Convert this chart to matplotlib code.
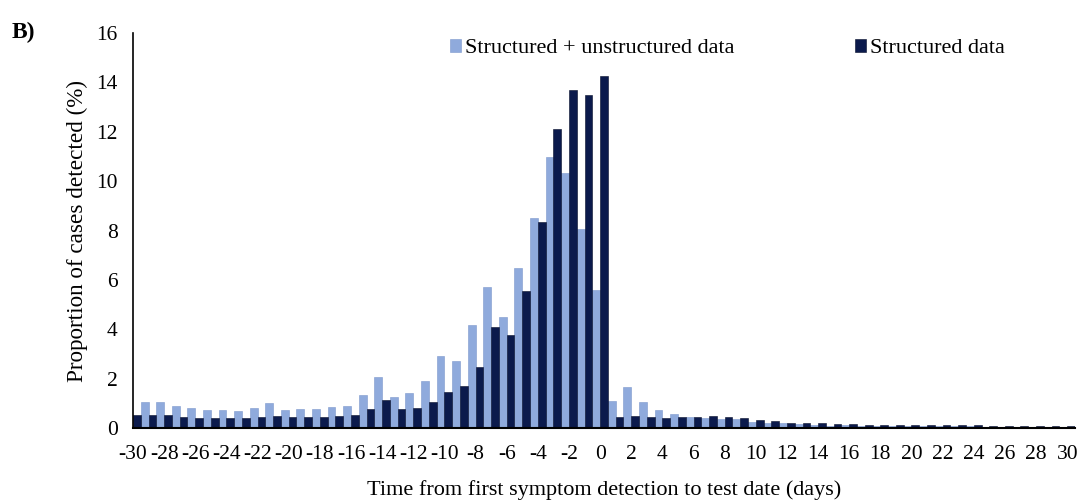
import matplotlib.pyplot as plt
import numpy as np

plt.rcParams['font.family'] = ['Liberation Serif', 'DejaVu Serif']
plt.rcParams['axes.unicode_minus'] = False

# time from first symptom detection to test date (days)
days_struct = list(range(-30, 31))
days_both = list(range(-29, 31))

# structured data (%)
structured = [0.53, 0.53, 0.53, 0.43, 0.39, 0.39, 0.39, 0.39, 0.46, 0.49,
              0.43, 0.46, 0.46, 0.50, 0.53, 0.77, 1.13, 0.76, 0.82, 1.04,
              1.44, 1.70, 2.48, 4.08, 3.78, 5.56, 8.33, 12.1, 13.68, 13.5,
              14.25,
              0.46, 0.50, 0.46, 0.39, 0.43, 0.43, 0.47, 0.43, 0.39, 0.34,
              0.27, 0.22, 0.22, 0.22, 0.15, 0.15, 0.13, 0.13, 0.12, 0.12,
              0.12, 0.12, 0.12, 0.12, 0.10, 0.10, 0.10, 0.10, 0.10, 0.08]

# structured + unstructured data (%)
both = [1.05, 1.05, 0.90, 0.80, 0.73, 0.73, 0.69, 0.80, 1.03,
        0.73, 0.76, 0.76, 0.84, 0.90, 1.33, 2.06, 1.24, 1.43, 1.90,
        2.91, 2.73, 4.17, 5.72, 4.48, 6.50, 8.50, 10.98, 10.34, 8.08,
        5.59,
        1.11, 1.65, 1.04, 0.73, 0.55, 0.43, 0.40, 0.35, 0.35, 0.26,
        0.22, 0.19, 0.15, 0.12, 0.08, 0.12, 0.10, 0.10, 0.08, 0.08,
        0.08, 0.08, 0.07, 0.07, 0.03, 0.03, 0.03, 0.02, 0.02, 0.02]

light = '#8FAADC'
dark = '#0B1A4C'

fig = plt.figure(figsize=(10.83, 5.01), dpi=100)
ax = fig.add_axes([0.1228, 0.1457, 0.8698, 0.7883])

ax.bar(days_both, both, width=-0.5, align='edge', color=light,
       edgecolor='#7D98CC', linewidth=0.4, label='Structured + unstructured data')
ax.bar(days_struct, structured, width=0.5, align='edge', color=dark,
       edgecolor='#050D2A', linewidth=0.4, label='Structured data')

ax.set_xlim(-30, 30.5)
ax.set_ylim(0, 16)
ax.set_yticks(np.arange(0, 17, 2))
ax.set_xticks(np.arange(-30, 31, 2))
ax.tick_params(axis='both', length=0, labelsize=15.5)
ax.tick_params(axis='y', pad=11)
ax.tick_params(axis='x', pad=12)

for s in ['top', 'right']:
    ax.spines[s].set_visible(False)
ax.spines['left'].set_linewidth(1.2)
ax.spines['bottom'].set_linewidth(1.5)

ax.set_ylabel('Proportion of cases detected (%)', fontsize=16.7, labelpad=6)
ax.set_xlabel('Time from first symptom detection to test date (days)', fontsize=16, labelpad=12)

ax.legend(loc='upper center', bbox_to_anchor=(0.631, 1.035), ncol=2, frameon=False,
          fontsize=16, handlelength=0.5, handleheight=0.5, handletextpad=0.2,
          columnspacing=5.4)

fig.text(0.011, 0.925, 'B)', fontsize=17, fontweight='bold')

plt.savefig('out.png', dpi=100)
